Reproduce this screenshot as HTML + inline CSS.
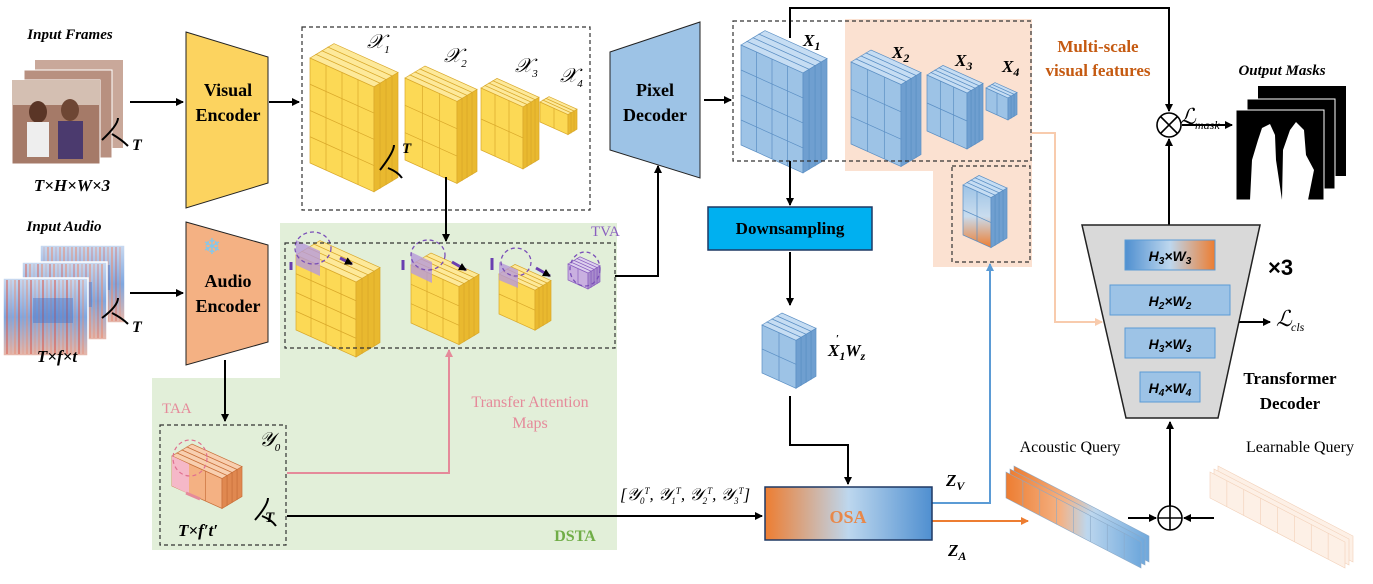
<!DOCTYPE html>
<html><head><meta charset="utf-8"><style>
html,body{margin:0;padding:0;background:#fff;}
svg{display:block;font-family:"Liberation Serif",serif;}
.b{font-weight:bold;}
</style></head><body>
<svg id="s" width="1373" height="584" viewBox="0 0 1373 584" xmlns="http://www.w3.org/2000/svg">
<defs>
<marker id="ah" markerWidth="8" markerHeight="8" refX="7" refY="4" orient="auto" markerUnits="userSpaceOnUse"><path d="M0,0 L8,4 L0,8 z" fill="#000"/></marker>
<marker id="ahp" markerWidth="8" markerHeight="8" refX="7" refY="4" orient="auto" markerUnits="userSpaceOnUse"><path d="M0,0 L8,4 L0,8 z" fill="#e58a9a"/></marker>
<marker id="ahb" markerWidth="8" markerHeight="8" refX="7" refY="4" orient="auto" markerUnits="userSpaceOnUse"><path d="M0,0 L8,4 L0,8 z" fill="#5b9bd5"/></marker>
<marker id="aho" markerWidth="8" markerHeight="8" refX="7" refY="4" orient="auto" markerUnits="userSpaceOnUse"><path d="M0,0 L8,4 L0,8 z" fill="#ed7d31"/></marker>
<marker id="ahl" markerWidth="8" markerHeight="8" refX="7" refY="4" orient="auto" markerUnits="userSpaceOnUse"><path d="M0,0 L8,4 L0,8 z" fill="#f8cbad"/></marker>
<linearGradient id="osa" x1="0" x2="1"><stop offset="0" stop-color="#ed7d31"/><stop offset="0.5" stop-color="#bdd7ee"/><stop offset="1" stop-color="#4f8fd0"/></linearGradient>
<linearGradient id="hw" x1="0" x2="1"><stop offset="0" stop-color="#4f8fd0"/><stop offset="0.5" stop-color="#bdd7ee"/><stop offset="1" stop-color="#ed7d31"/></linearGradient>
<linearGradient id="aq" x1="0" x2="1"><stop offset="0" stop-color="#ed7d31"/><stop offset="0.4" stop-color="#f4b183"/><stop offset="0.6" stop-color="#bdd7ee"/><stop offset="1" stop-color="#6fa8dc"/></linearGradient>
<linearGradient id="mix" x1="0" y1="0" x2="0" y2="1"><stop offset="0" stop-color="#9dc3e6"/><stop offset="0.5" stop-color="#c9dcee"/><stop offset="1" stop-color="#ed7d31"/></linearGradient>
<linearGradient id="spec" x1="0" x2="0" y1="0" y2="1"><stop offset="0" stop-color="#c9d9f0"/><stop offset="0.5" stop-color="#7fa7e0"/><stop offset="1" stop-color="#e9b7a8"/></linearGradient>
</defs>

<path d="M280,223 H617 V550 H152 V378 H280 Z" fill="#e2efd9"/>
<path d="M845,19 H1032 V267 H933 V171 H845 Z" fill="#fbe1d1"/>

<g id="cubes"></g>

<g fill="none" stroke="#333" stroke-width="1.2" stroke-dasharray="4,3">
<rect x="302" y="27" width="288" height="183"/>
<rect x="285" y="243" width="330" height="105"/>
<rect x="160" y="425" width="126" height="120"/>
<rect x="733" y="21" width="298" height="140"/>
<rect x="952" y="166" width="78" height="96"/>
</g>

<text x="70" y="39" text-anchor="middle" class="b" font-style="italic" font-size="15">Input Frames</text>
<g>
<rect x="35" y="60" width="88" height="88" fill="#c9a89a"/>
<rect x="24" y="70" width="88" height="88" fill="#b89080" stroke="#fff"/>
<rect x="12" y="80" width="88" height="84" fill="#a57a68" stroke="#fff"/>
<rect x="12" y="80" width="88" height="25" fill="#d4bfb2"/>
<ellipse cx="38" cy="112" rx="9" ry="11" fill="#5a3526"/>
<rect x="27" y="122" width="22" height="35" fill="#eee"/>
<ellipse cx="70" cy="110" rx="9" ry="11" fill="#6e4634"/>
<rect x="58" y="121" width="25" height="38" fill="#4b3a6e"/>
</g>
<path d="M102,140 Q118,125 118,118 M112,134 Q122,140 128,146" stroke="#000" stroke-width="2" fill="none"/>
<text x="132" y="150" class="b" font-style="italic" font-size="16">T</text>
<text x="72" y="191" text-anchor="middle" class="b" font-style="italic" font-size="17">T×H×W×3</text>

<text x="64" y="231" text-anchor="middle" class="b" font-style="italic" font-size="15">Input Audio</text>
<g id="specs"></g>
<path d="M102,318 Q118,306 118,298 M112,313 Q122,318 128,324" stroke="#000" stroke-width="2" fill="none"/>
<text x="132" y="332" class="b" font-style="italic" font-size="16">T</text>
<text x="57" y="362" text-anchor="middle" class="b" font-style="italic" font-size="17">T×f×t</text>

<path d="M186,32 L268,57 L268,183 L186,208 Z" fill="#fcd35f" stroke="#222" stroke-width="1"/>
<text x="228" y="96" text-anchor="middle" class="b" font-size="18">Visual</text>
<text x="228" y="121" text-anchor="middle" class="b" font-size="18">Encoder</text>
<path d="M186,222 L268,245 L268,342 L186,365 Z" fill="#f4b183" stroke="#222" stroke-width="1"/>
<text x="212" y="254" text-anchor="middle" font-size="22" fill="#7ec8f0">❄</text>
<text x="228" y="287" text-anchor="middle" class="b" font-size="18">Audio</text>
<text x="228" y="312" text-anchor="middle" class="b" font-size="18">Encoder</text>

<g stroke="#000" stroke-width="2" fill="none" marker-end="url(#ah)">
<line x1="130" y1="102" x2="183" y2="102"/>
<line x1="130" y1="293" x2="183" y2="293"/>
<line x1="269" y1="102" x2="299" y2="102"/>
<line x1="446" y1="177" x2="446" y2="241"/>
<line x1="225" y1="360" x2="225" y2="421"/>
<polyline points="615,276 658,276 658,166"/>
<line x1="704" y1="100" x2="731" y2="100"/>
<line x1="790" y1="161" x2="790" y2="205"/>
<line x1="790" y1="252" x2="790" y2="305"/>
<polyline points="790,396 790,445 848,445 848,484"/>
<line x1="287" y1="516" x2="762" y2="516"/>
<polyline points="790,38 790,8 1169,8 1169,111"/>
<line x1="1182" y1="125" x2="1232" y2="125"/>
<line x1="1169" y1="225" x2="1169" y2="139"/>
<line x1="1235" y1="322" x2="1270" y2="322"/>
<line x1="1170" y1="506" x2="1170" y2="422"/>
<line x1="1128" y1="518" x2="1156" y2="518"/>
<line x1="1214" y1="518" x2="1184" y2="518"/>
</g>
<line x1="446" y1="210" x2="446" y2="178" stroke="#000" stroke-width="2"/>
<polyline points="287,473 449,473 449,350" stroke="#e58a9a" stroke-width="2" fill="none" marker-end="url(#ahp)"/>
<polyline points="932,503 990,503 990,264" stroke="#5b9bd5" stroke-width="2" fill="none" marker-end="url(#ahb)"/>
<line x1="932" y1="521" x2="1028" y2="521" stroke="#ed7d31" stroke-width="2" marker-end="url(#aho)"/>
<polyline points="1032,133 1055,133 1055,322 1102,322" stroke="#f8cbad" stroke-width="2" fill="none" marker-end="url(#ahl)"/>

<circle cx="1169" cy="125" r="12" fill="#fff" stroke="#000" stroke-width="1.6"/>
<path d="M1161,117 L1177,133 M1177,117 L1161,133" stroke="#000" stroke-width="1.6"/>
<circle cx="1170" cy="518" r="12" fill="#fff" stroke="#000" stroke-width="1.6"/>
<path d="M1158,518 H1182 M1170,506 V530" stroke="#000" stroke-width="1.6"/>

<g font-style="italic" font-size="20" font-family="Liberation Serif,serif">
<text x="367" y="48">𝒳<tspan font-size="11" dy="5">1</tspan></text>
<text x="444" y="62">𝒳<tspan font-size="11" dy="5">2</tspan></text>
<text x="515" y="72">𝒳<tspan font-size="11" dy="5">3</tspan></text>
<text x="560" y="82">𝒳<tspan font-size="11" dy="5">4</tspan></text>
<text x="259" y="446">𝒴<tspan font-size="11" dy="5">0</tspan></text>
</g>
<path d="M380,170 Q394,152 394,145 M388,168 Q398,172 402,178" stroke="#000" stroke-width="2" fill="none"/>
<text x="402" y="153" class="b" font-style="italic" font-size="15">T</text>
<text x="162" y="413" fill="#e58a9a" font-size="15">TAA</text>
<text x="591" y="236" fill="#8a5fbf" font-size="15">TVA</text>
<text x="530" y="407" text-anchor="middle" fill="#e58a9a" font-size="16">Transfer Attention</text>
<text x="530" y="428" text-anchor="middle" fill="#e58a9a" font-size="16">Maps</text>
<text x="575" y="541" text-anchor="middle" class="b" fill="#70ad47" font-size="16">DSTA</text>
<path d="M255,520 Q268,505 268,498 M262,516 Q272,520 276,526" stroke="#000" stroke-width="2" fill="none"/>
<text x="265" y="522" class="b" font-style="italic" font-size="15">T</text>
<text x="178" y="536" class="b" font-style="italic" font-size="17">T×f′t′</text>
<text x="620" y="500" font-style="italic" font-size="17">[𝒴<tspan font-size="9" dy="4">0</tspan><tspan font-size="9" dy="-10">T</tspan><tspan dy="6">, 𝒴</tspan><tspan font-size="9" dy="4">1</tspan><tspan font-size="9" dy="-10">T</tspan><tspan dy="6">, 𝒴</tspan><tspan font-size="9" dy="4">2</tspan><tspan font-size="9" dy="-10">T</tspan><tspan dy="6">, 𝒴</tspan><tspan font-size="9" dy="4">3</tspan><tspan font-size="9" dy="-10">T</tspan><tspan dy="6">]</tspan></text>

<path d="M610,52 L700,22 L700,178 L610,150 Z" fill="#9dc3e6" stroke="#222" stroke-width="1"/>
<text x="655" y="96" text-anchor="middle" class="b" font-size="18">Pixel</text>
<text x="655" y="121" text-anchor="middle" class="b" font-size="18">Decoder</text>

<g class="b" font-style="italic" font-size="17">
<text x="803" y="46">X<tspan font-size="12" dy="4">1</tspan></text>
<text x="892" y="58">X<tspan font-size="12" dy="4">2</tspan></text>
<text x="955" y="66">X<tspan font-size="12" dy="4">3</tspan></text>
<text x="1002" y="72">X<tspan font-size="12" dy="4">4</tspan></text>
<text x="828" y="356">X<tspan font-size="12" dy="4">1</tspan><tspan dy="-4">W</tspan><tspan font-size="12" dy="4">z</tspan></text>
<text x="836" y="342" font-size="11" font-style="normal">′</text>
<text x="946" y="486">Z<tspan font-size="12" dy="4">V</tspan></text>
<text x="948" y="556">Z<tspan font-size="12" dy="4">A</tspan></text>
</g>
<text x="1098" y="52" text-anchor="middle" class="b" fill="#c55a11" font-size="17">Multi-scale</text>
<text x="1098" y="76" text-anchor="middle" class="b" fill="#c55a11" font-size="17">visual features</text>

<rect x="708" y="207" width="164" height="43" fill="#00b0f0" stroke="#1f3864" stroke-width="1.5"/>
<text x="790" y="234" text-anchor="middle" class="b" font-size="17">Downsampling</text>

<rect x="765" y="487" width="167" height="53" fill="url(#osa)" stroke="#1f3864" stroke-width="1.5"/>
<text x="848" y="523" text-anchor="middle" class="b" fill="#e8884a" font-size="18">OSA</text>

<text x="1282" y="75" text-anchor="middle" class="b" font-style="italic" font-size="15">Output Masks</text>
<rect x="1258" y="86" width="88" height="90" fill="#000"/>
<rect x="1247" y="99" width="88" height="90" fill="#000" stroke="#fff"/>
<rect x="1236" y="110" width="88" height="90" fill="#000" stroke="#fff"/>
<path d="M1250,200 L1252,160 L1258,140 L1262,128 L1270,124 L1275,135 L1276,160 L1282,200 Z M1282,200 L1283,150 L1290,130 L1296,122 L1304,130 L1306,155 L1314,170 L1308,200 Z" fill="#fff"/>
<text x="1180" y="124" font-style="italic" font-size="22">ℒ</text>
<text x="1195" y="129" font-style="italic" font-size="12">mask</text>
<text x="1276" y="326" font-style="italic" font-size="22">ℒ</text>
<text x="1291" y="331" font-style="italic" font-size="12">cls</text>

<path d="M1082,225 L1260,225 L1218,418 L1126,418 Z" fill="#d9d9d9" stroke="#222" stroke-width="1.5"/>
<rect x="1125" y="240" width="90" height="30" fill="url(#hw)" stroke="#5b9bd5"/>
<rect x="1110" y="285" width="120" height="30" fill="#9dc3e6" stroke="#5b9bd5"/>
<rect x="1125" y="328" width="90" height="30" fill="#9dc3e6" stroke="#5b9bd5"/>
<rect x="1140" y="372" width="60" height="30" fill="#9dc3e6" stroke="#5b9bd5"/>
<g class="b" font-style="italic" font-size="14" text-anchor="middle" font-family="Liberation Sans,sans-serif">
<text x="1170" y="261">H<tspan font-size="10" dy="3">3</tspan><tspan dy="-3">×W</tspan><tspan font-size="10" dy="3">3</tspan></text>
<text x="1170" y="306">H<tspan font-size="10" dy="3">2</tspan><tspan dy="-3">×W</tspan><tspan font-size="10" dy="3">2</tspan></text>
<text x="1170" y="349">H<tspan font-size="10" dy="3">3</tspan><tspan dy="-3">×W</tspan><tspan font-size="10" dy="3">3</tspan></text>
<text x="1170" y="393">H<tspan font-size="10" dy="3">4</tspan><tspan dy="-3">×W</tspan><tspan font-size="10" dy="3">4</tspan></text>
</g>
<text x="1268" y="275" class="b" font-size="22" font-family="Liberation Sans,sans-serif">×3</text>
<text x="1290" y="384" text-anchor="middle" class="b" font-size="17">Transformer</text>
<text x="1290" y="409" text-anchor="middle" class="b" font-size="17">Decoder</text>
<text x="1070" y="452" text-anchor="middle" font-size="16">Acoustic Query</text>
<text x="1300" y="452" text-anchor="middle" font-size="16">Learnable Query</text>
</svg>
<script>
(function(){
var NS="http://www.w3.org/2000/svg";
var g=document.getElementById("cubes");
function el(t,a,p){var e=document.createElementNS(NS,t);for(var k in a)e.setAttribute(k,a[k]);(p||g).appendChild(e);return e;}
function stk(x,y,w,h,nx,ny,L,d,c){
 for(var i=0;i<L;i++){
  var fx=x+(L-1-i)*d, fy=y-(L-1-i)*d*0.6;
  var sk=w*0.45;
  el("polygon",{points:[[fx,fy],[fx+w,fy+sk],[fx+w,fy+sk+h],[fx,fy+h]].join(" "),fill:c[0],stroke:c[3],"stroke-width":0.7});
  el("polygon",{points:[[fx+w,fy+sk],[fx+w+d,fy+sk-d*0.6],[fx+w+d,fy+sk+h-d*0.6],[fx+w,fy+sk+h]].join(" "),fill:c[2],stroke:c[3],"stroke-width":0.7});
  el("polygon",{points:[[fx,fy],[fx+d,fy-d*0.6],[fx+w+d,fy+sk-d*0.6],[fx+w,fy+sk]].join(" "),fill:c[1],stroke:c[3],"stroke-width":0.7});
 }
 var fx=x,fy=y,sk=w*0.45;
 for(var a=1;a<nx;a++){var xx=fx+w*a/nx;el("line",{x1:xx,y1:fy+sk*a/nx,x2:xx,y2:fy+sk*a/nx+h,stroke:c[3],"stroke-width":0.7});}
 for(var b=1;b<ny;b++){var yy=fy+h*b/ny;el("line",{x1:fx,y1:yy,x2:fx+w,y2:yy+sk,stroke:c[3],"stroke-width":0.7});}
}
var Y=["#fcd955","#fde99a","#e9b92f","#d9a82a"];
var B=["#9dc3e6","#c6ddf3","#6f9fd0","#5b8fc4"];
var A=["url(#mix)","#c6ddf3","#6f9fd0","#5b8fc4"];
var O=["#f4b183","#f8cfb0","#e08850","#c8703a"];
stk(310,58,64,105,4,4,4,6,Y);
stk(405,78,52,82,3,3,4,5,Y);
stk(481,88,42,62,3,2,4,4,Y);
stk(540,102,28,20,2,1,3,3,Y);
stk(296,255,60,75,4,4,4,6,Y);
stk(411,265,48,58,3,3,4,5,Y);
stk(499,274,36,40,2,2,4,4,Y);
stk(568,264,20,16,2,1,4,3,["#c9b0e0","#ddd0ee","#a88ccc","#8a5fbf"]);
el("polygon",{points:"296,240 320,251 320,276 296,265",fill:"#b69ad8",opacity:0.8});
el("polygon",{points:"411,252 432,262 432,283 411,273",fill:"#b69ad8",opacity:0.8});
el("polygon",{points:"499,262 518,270 518,288 499,280",fill:"#b69ad8",opacity:0.8});
[[313,248,18,16],[428,255,17,15],[516,262,15,14],[585,269,15,17]].forEach(function(q){el("ellipse",{cx:q[0],cy:q[1],rx:q[2],ry:q[3],fill:"none",stroke:"#7a4fb8","stroke-width":1.3,"stroke-dasharray":"4,3"});});
[[340,258,352,264],[452,262,466,270],[536,268,550,276]].forEach(function(q){el("line",{x1:q[0],y1:q[1],x2:q[2],y2:q[3],stroke:"#6a3fb0","stroke-width":3,"marker-end":"url(#ah)"});});
[[291,262,291,270],[403,260,403,270],[492,258,492,270]].forEach(function(q){el("line",{x1:q[0],y1:q[1],x2:q[2],y2:q[3],stroke:"#6a3fb0","stroke-width":3});});
stk(172,456,50,30,3,1,4,5,O);
el("polygon",{points:"172,456 189,464 189,494 172,486",fill:"#f5b8c8"});
el("ellipse",{cx:190,cy:458,rx:17,ry:18,fill:"none",stroke:"#e07090","stroke-width":1.2,"stroke-dasharray":"4,3"});
el("line",{x1:186,y1:493,x2:200,y2:499,stroke:"#e58a9a","stroke-width":3});
stk(741,45,62,100,4,4,4,6,B);
stk(851,62,50,82,3,3,4,5,B);
stk(927,75,40,56,3,2,4,4,B);
stk(986,88,22,22,2,1,3,3,B);
stk(963,185,28,50,2,2,4,4,A);
stk(762,325,34,48,2,2,4,5,B);
function bar(x,y,c,cc){
 for(var i=0;i<3;i++){var ox=x+(2-i)*4, oy=y-(2-i)*3;
  el("polygon",{points:[[ox,oy],[ox+135,oy+70],[ox+135,oy+96],[ox,oy+26]].join(" "),fill:c,stroke:cc,"stroke-width":0.6});}
 for(var k=1;k<8;k++){var xx=x+135*k/8;el("line",{x1:xx,y1:y+70*k/8,x2:xx,y2:y+70*k/8+26,stroke:cc,"stroke-width":0.6});}
}
bar(1006,472,"url(#aq)","#8aa9c8");
bar(1210,472,"#fdf0e6","#f2d0b8");
var sp=document.getElementById("specs");
[[40,245],[22,262],[3,278]].forEach(function(q,j){
 el("rect",{x:q[0],y:q[1],width:85,height:78,fill:"url(#spec)",stroke:"#fff","stroke-width":1.5},sp);
 for(var i=0;i<20;i++){var xx=q[0]+3+i*4;var r=Math.abs(Math.sin(i*7.3+j))*0.7+0.2;
  el("rect",{x:xx,y:q[1]+2,width:2,height:74,fill:(i%3==0?"#d9584a":"#e88a70"),opacity:r*0.6},sp);}
 el("rect",{x:q[0]+30,y:q[1]+20,width:40,height:25,fill:"#3b6fc8",opacity:0.4},sp);
});
})();
</script>
</body></html>
